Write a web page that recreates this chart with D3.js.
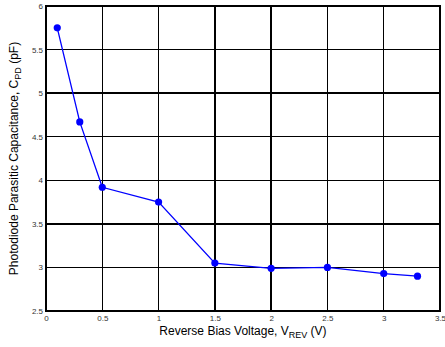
<!DOCTYPE html>
<html>
<head>
<meta charset="utf-8">
<script src="https://cdn.jsdelivr.net/npm/d3@7"></script>
<style>
  body { margin: 0; background: #fff; }
  svg { display: block; font-family: 'Liberation Sans', Arial, sans-serif; }
</style>
</head>
<body>
<svg id="chart" width="445" height="347"></svg>
<script>
'use strict';

var voltage = [0.1, 0.3, 0.5, 1, 1.5, 2, 2.5, 3, 3.3];
var capacitance = [5.75, 4.67, 3.92, 3.75, 3.05, 2.99, 3.0, 2.93, 2.9];
var xTicks = [0, 0.5, 1, 1.5, 2, 2.5, 3, 3.5];
var yTicks = [2.5, 3, 3.5, 4, 4.5, 5, 5.5, 6];

var svg = d3.select('#chart');
var PLOT_LEFT = 46, PLOT_RIGHT = 440, PLOT_TOP = 6, PLOT_BOTTOM = 311;

var x = d3.scaleLinear().domain([0, 3.5]).range([PLOT_LEFT, PLOT_RIGHT]);
var y = d3.scaleLinear().domain([2.5, 6]).range([PLOT_BOTTOM, PLOT_TOP]);

// Grid lines
var grid = svg.append('g')
    .style('stroke', '#000')
    .style('stroke-width', 1.5)
    .style('shape-rendering', 'crispEdges');
grid.selectAll('line.vx')
    .data(xTicks.slice(1, -1))
  .enter().append('line')
    .attr('x1', function(d) { return x(d); })
    .attr('x2', function(d) { return x(d); })
    .attr('y1', PLOT_TOP)
    .attr('y2', PLOT_BOTTOM);
grid.selectAll('line.hy')
    .data(yTicks.slice(1, -1))
  .enter().append('line')
    .attr('y1', function(d) { return y(d); })
    .attr('y2', function(d) { return y(d); })
    .attr('x1', PLOT_LEFT)
    .attr('x2', PLOT_RIGHT);

// Frame
svg.append('rect')
    .attr('x', PLOT_LEFT)
    .attr('y', PLOT_TOP)
    .attr('width', PLOT_RIGHT - PLOT_LEFT)
    .attr('height', PLOT_BOTTOM - PLOT_TOP)
    .style('fill', 'none')
    .style('stroke', '#000')
    .style('stroke-width', 2);

// Axes (labels only)
var xAxis = d3.axisBottom(x)
    .tickValues(xTicks)
    .tickSize(0)
    .tickPadding(4)
    .tickFormat(d3.format('~g'));
svg.append('g')
    .attr('transform', 'translate(0,' + PLOT_BOTTOM + ')')
    .call(xAxis)
    .call(function(g) { g.select('.domain').remove(); })
    .selectAll('text')
    .style('font-size', '8px')
    .style('fill', '#333');

var yAxis = d3.axisLeft(y)
    .tickValues(yTicks)
    .tickSize(0)
    .tickPadding(3)
    .tickFormat(d3.format('~g'));
svg.append('g')
    .attr('transform', 'translate(' + PLOT_LEFT + ',0)')
    .call(yAxis)
    .call(function(g) { g.select('.domain').remove(); })
    .selectAll('text')
    .style('font-size', '8px')
    .style('fill', '#333');

// Data line
var line = d3.line()
    .x(function(d, i) { return x(voltage[i]); })
    .y(function(d) { return y(d); });

svg.append('path')
    .datum(capacitance)
    .attr('d', line)
    .style('fill', 'none')
    .style('stroke', '#0000ff')
    .style('stroke-width', 1.3);

svg.selectAll('circle.pt')
    .data(capacitance)
  .enter().append('circle')
    .attr('cx', function(d, i) { return x(voltage[i]); })
    .attr('cy', function(d) { return y(d); })
    .attr('r', 3.6)
    .style('fill', '#0000ff');

// Axis titles
var xt = svg.append('text')
    .attr('x', (PLOT_LEFT + PLOT_RIGHT) / 2)
    .attr('y', 335)
    .attr('text-anchor', 'middle')
    .style('font-size', '12px')
    .style('fill', '#000');
xt.append('tspan').text('Reverse Bias Voltage, V');
xt.append('tspan').attr('dy', 3).style('font-size', '9px').text('REV');
xt.append('tspan').attr('dy', -3).text(' (V)');

var yt = svg.append('text')
    .attr('transform', 'translate(18,' + ((PLOT_TOP + PLOT_BOTTOM) / 2) + ') rotate(-90)')
    .attr('text-anchor', 'middle')
    .style('font-size', '12px')
    .style('fill', '#000');
yt.append('tspan').text('Photodiode Parasitic Capacitance, C');
yt.append('tspan').attr('dy', 3).style('font-size', '9px').text('PD');
yt.append('tspan').attr('dy', -3).text(' (pF)');
</script>
</body>
</html>
